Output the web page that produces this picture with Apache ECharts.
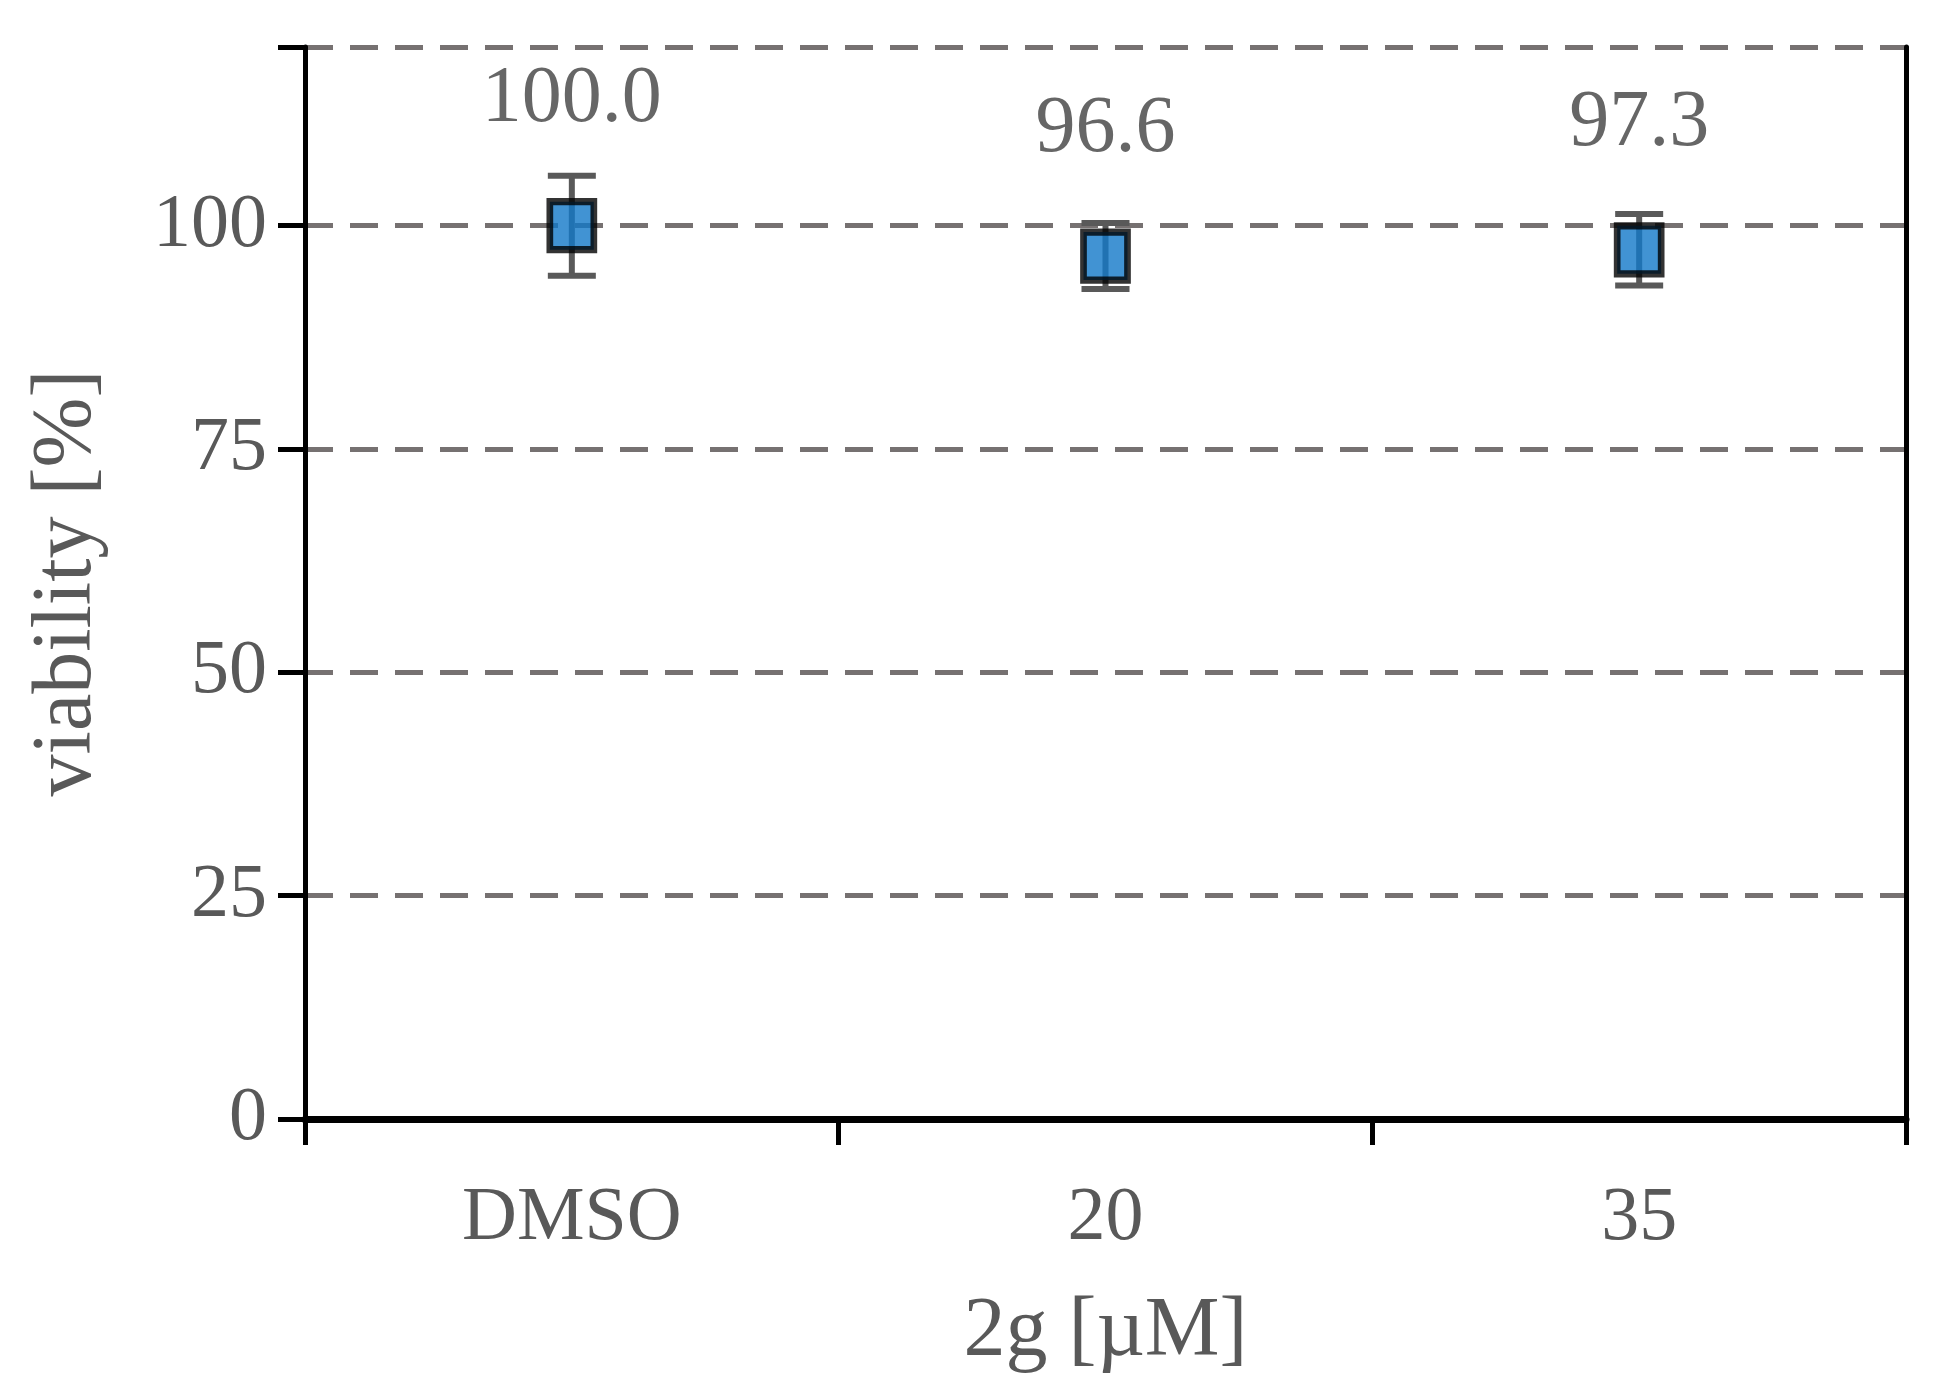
<!DOCTYPE html>
<html><head><meta charset="utf-8">
<script src="https://cdn.jsdelivr.net/npm/echarts@6/dist/echarts.min.js"></script>
<style>html,body{margin:0;padding:0;background:#fff}#c{width:1933px;height:1388px}</style>
</head><body><div id="c"></div>
<script>
const categories = ['DMSO', '20', '35'];
const viability = [100.0, 96.6, 97.3];
const errors = [5.6, 3.7, 4.0];
const yTicks = [0, 25, 50, 75, 100];

const font = '"Liberation Serif", "DejaVu Serif", serif';
const chart = echarts.init(document.getElementById('c'));
chart.setOption({
  animation: false,
  grid: {left: 305, right: 27, top: 47, bottom: 269},
  xAxis: [{
    type: 'category', data: categories, boundaryGap: true,
    name: '2g [µM]', nameLocation: 'middle', nameGap: 172,
    nameTextStyle: {fontFamily: font, fontSize: 84, color: '#595959'},
    axisLine: {lineStyle: {color: '#000', width: 7}},
    axisTick: {show: true, length: 26, lineStyle: {color: '#000', width: 5}},
    axisLabel: {fontFamily: font, fontSize: 76, color: '#595959', margin: 62}
  }, {
    type: 'category', data: categories, position: 'top',
    axisLine: {show: true, lineStyle: {color: '#000', width: 5}},
    axisTick: {show: false}, axisLabel: {show: false}
  }],
  yAxis: [{
    type: 'value', min: 0, max: 120, interval: 25,
    name: 'viability [%]', nameLocation: 'middle', nameGap: 195,
    nameTextStyle: {fontFamily: font, fontSize: 84, color: '#595959'},
    axisLine: {show: true, lineStyle: {color: '#000', width: 5}},
    axisTick: {show: true, length: 27, lineStyle: {color: '#000', width: 5}},
    axisLabel: {fontFamily: font, fontSize: 76, color: '#595959', margin: 38,
      formatter: v => yTicks.includes(v) ? String(v) : ''},
    splitLine: {show: true, lineStyle: {color: '#767171', width: 5, type: [28, 17]}}
  }, {
    type: 'value', min: 0, max: 120, position: 'right',
    axisLine: {show: true, lineStyle: {color: '#000', width: 5}},
    axisTick: {show: false}, axisLabel: {show: false}, splitLine: {show: false}
  }],
  series: [
    {
      type: 'custom',
      data: viability.map((v, i) => [i, v - errors[i], v + errors[i]]),
      renderItem: (params, api) => {
        const lo = api.coord([api.value(0), api.value(1)]);
        const hi = api.coord([api.value(0), api.value(2)]);
        const w = 24;
        const st = {stroke: '#595959', lineWidth: 6};
        return {type: 'group', children: [
          {type: 'line', shape: {x1: lo[0], y1: lo[1], x2: hi[0], y2: hi[1]}, style: st},
          {type: 'line', shape: {x1: lo[0]-w, y1: lo[1], x2: lo[0]+w, y2: lo[1]}, style: st},
          {type: 'line', shape: {x1: hi[0]-w, y1: hi[1], x2: hi[0]+w, y2: hi[1]}, style: st}
        ]};
      },
      z: 3
    },
    {
      type: 'scatter', data: viability, symbol: 'rect', symbolSize: [44, 48],
      itemStyle: {color: '#1278c8', borderColor: '#000', borderWidth: 7},
      label: {show: true, position: 'top', distance: 58, formatter: p => p.value.toFixed(1),
        fontFamily: font, fontSize: 80, color: '#404040'},
      z: 5
    }
  ]
});
</script></body></html>
